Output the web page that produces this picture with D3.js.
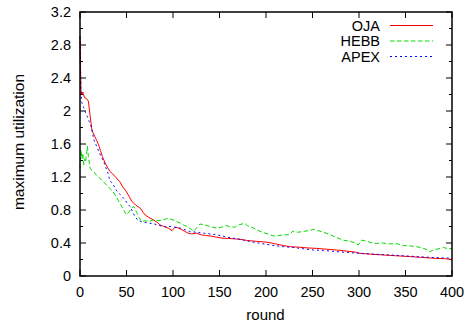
<!DOCTYPE html>
<html>
<head>
<meta charset="utf-8">
<script src="https://cdn.jsdelivr.net/npm/d3@7"></script>
<style>
  html, body { margin: 0; padding: 0; background: #fff; }
</style>
</head>
<body>
<script>
// Series: [round, maximum utilization]
const ojaData = [[0,2.9],[1,2.25],[2,2.2],[3,2.23],[5,2.16],[7,2.15],[9,2.12],[11,1.93],[13,1.76],[16,1.69],[18,1.64],[20,1.59],[22,1.52],[24,1.45],[27,1.37],[30,1.31],[32,1.27],[35,1.24],[39,1.19],[43,1.14],[46,1.08],[50,1.02],[53,0.96],[56,0.90],[60,0.86],[65,0.82],[68,0.77],[70,0.74],[74,0.71],[79,0.68],[83,0.65],[86,0.62],[90,0.60],[95,0.58],[99,0.55],[102,0.59],[105,0.585],[108,0.57],[112,0.545],[116,0.52],[120,0.51],[125,0.52],[130,0.50],[135,0.49],[140,0.485],[147,0.47],[152,0.46],[160,0.455],[166,0.45],[172,0.445],[180,0.43],[190,0.42],[201,0.41],[210,0.39],[218,0.37],[226,0.355],[235,0.35],[245,0.34],[254,0.335],[265,0.325],[276,0.315],[288,0.30],[296,0.29],[301,0.275],[312,0.265],[326,0.255],[340,0.245],[355,0.235],[368,0.225],[380,0.215],[392,0.21],[400,0.20]];

const hebbData = [[0,1.3],[1,1.53],[2,1.42],[3,1.49],[4,1.35],[5,1.42],[6,1.38],[8,1.57],[9,1.45],[10,1.37],[11,1.3],[13,1.28],[15,1.26],[18,1.22],[22,1.18],[26,1.13],[29,1.10],[32,1.06],[35,1.03],[39,0.96],[43,0.88],[47,0.80],[50,0.74],[53,0.78],[56,0.83],[58,0.84],[61,0.77],[63,0.72],[66,0.66],[70,0.67],[74,0.66],[79,0.68],[84,0.67],[89,0.68],[95,0.70],[100,0.68],[104,0.66],[108,0.64],[111,0.62],[115,0.60],[119,0.57],[122,0.54],[125,0.58],[129,0.63],[134,0.62],[140,0.60],[147,0.58],[152,0.59],[157,0.61],[161,0.60],[166,0.59],[171,0.62],[177,0.64],[180,0.61],[185,0.59],[190,0.56],[196,0.53],[202,0.51],[208,0.485],[214,0.49],[220,0.50],[225,0.50],[229,0.545],[234,0.53],[240,0.54],[246,0.55],[251,0.565],[256,0.55],[262,0.53],[269,0.50],[275,0.47],[283,0.435],[290,0.42],[296,0.40],[299,0.375],[303,0.435],[309,0.42],[314,0.40],[319,0.395],[325,0.40],[333,0.39],[341,0.39],[348,0.37],[355,0.365],[362,0.355],[368,0.34],[373,0.32],[376,0.295],[381,0.32],[386,0.33],[391,0.345],[396,0.33],[400,0.335]];

const apexData = [[0,2.9],[1,2.2],[2,2.1],[4,2.04],[6,1.98],[8,1.93],[10,1.87],[12,1.81],[15,1.65],[18,1.57],[21,1.49],[24,1.42],[26,1.37],[30,1.25],[32,1.16],[35,1.12],[39,1.04],[43,0.99],[47,0.94],[51,0.88],[54,0.84],[57,0.77],[59,0.72],[62,0.68],[65,0.66],[70,0.65],[75,0.64],[80,0.63],[86,0.61],[92,0.60],[97,0.60],[103,0.59],[108,0.58],[113,0.56],[118,0.54],[125,0.53],[132,0.52],[140,0.51],[147,0.50],[155,0.48],[163,0.46],[172,0.445],[182,0.42],[194,0.395],[205,0.375],[219,0.355],[230,0.345],[240,0.33],[251,0.315],[262,0.31],[276,0.295],[288,0.285],[301,0.275],[315,0.265],[333,0.255],[348,0.245],[362,0.235],[378,0.225],[390,0.22],[400,0.215]];

const seriesNames = ["OJA", "HEBB", "APEX"];
const xTicks = [0, 50, 100, 150, 200, 250, 300, 350, 400];
const yTicks = [0, 0.4, 0.8, 1.2, 1.6, 2, 2.4, 2.8, 3.2];
const yMinorTicks = [0.2, 0.6, 1.0, 1.4, 1.8, 2.2, 2.6, 3.0];

const width = 467, height = 326;
const margin = {top: 12, right: 15, bottom: 50, left: 80};
const innerW = width - margin.left - margin.right;
const innerH = height - margin.top - margin.bottom;
const fontSize = 14.5;

const series = [
  {name: seriesNames[0], data: ojaData,  color: "#ff0000", dash: null},
  {name: seriesNames[1], data: hebbData, color: "#00dd00", dash: "4.5,2.5"},
  {name: seriesNames[2], data: apexData, color: "#0000ff", dash: "2,3"},
];

const svg = d3.select("body").append("svg")
  .attr("width", width).attr("height", height)
  .style("font-family", "'Liberation Sans', Arial, sans-serif");

const x = d3.scaleLinear().domain([0, 400]).range([0, innerW]);
const y = d3.scaleLinear().domain([0, 3.2]).range([innerH, 0]);

const g = svg.append("g").attr("transform", `translate(${margin.left},${margin.top})`);

// gnuplot-style inward ticks, mirrored on all four sides
const tick = (sel, x1, y1, x2, y2) => sel.append("line")
  .attr("x1", x1).attr("y1", y1).attr("x2", x2).attr("y2", y2)
  .attr("stroke", "#000").attr("stroke-width", 1);

for (const t of xTicks) {
  tick(g, x(t), innerH, x(t), innerH - 6);
  tick(g, x(t), 0, x(t), 6);
  g.append("text").attr("x", x(t)).attr("y", innerH + 20.5)
    .attr("text-anchor", "middle").attr("font-size", fontSize).text(t);
}
for (const t of yTicks) {
  tick(g, 0, y(t), 6, y(t));
  tick(g, innerW, y(t), innerW - 6, y(t));
  g.append("text").attr("x", -9).attr("y", y(t) + 5)
    .attr("text-anchor", "end").attr("font-size", fontSize).text(t);
}
for (const t of yMinorTicks) {
  tick(g, 0, y(t), 3, y(t));
  tick(g, innerW, y(t), innerW - 3, y(t));
}

const line = d3.line().x(d => x(d[0])).y(d => y(d[1]));

for (const s of series) {
  g.append("path").datum(s.data)
    .attr("d", line)
    .attr("fill", "none")
    .attr("stroke", s.color)
    .attr("stroke-width", 1)
    .attr("stroke-dasharray", s.dash);
}

// frame
g.append("rect").attr("width", innerW).attr("height", innerH)
  .attr("fill", "none").attr("stroke", "#000").attr("stroke-width", 1.5);

// legend
series.forEach((s, i) => {
  const ly = 13.5 + i * 15.5;
  g.append("text").attr("x", 300).attr("y", ly + 5)
    .attr("text-anchor", "end").attr("font-size", fontSize).text(s.name);
  g.append("line")
    .attr("x1", 310).attr("x2", 353).attr("y1", ly).attr("y2", ly)
    .attr("stroke", s.color).attr("stroke-width", 1)
    .attr("stroke-dasharray", s.dash);
});

// axis titles
svg.append("text").attr("x", margin.left + innerW / 2 - 0.5).attr("y", 320)
  .attr("text-anchor", "middle").attr("font-size", 15).text("round");
svg.append("text")
  .attr("transform", `translate(24,142) rotate(-90)`)
  .attr("text-anchor", "middle").attr("font-size", 15.5).text("maximum utilization");
</script>
</body>
</html>
